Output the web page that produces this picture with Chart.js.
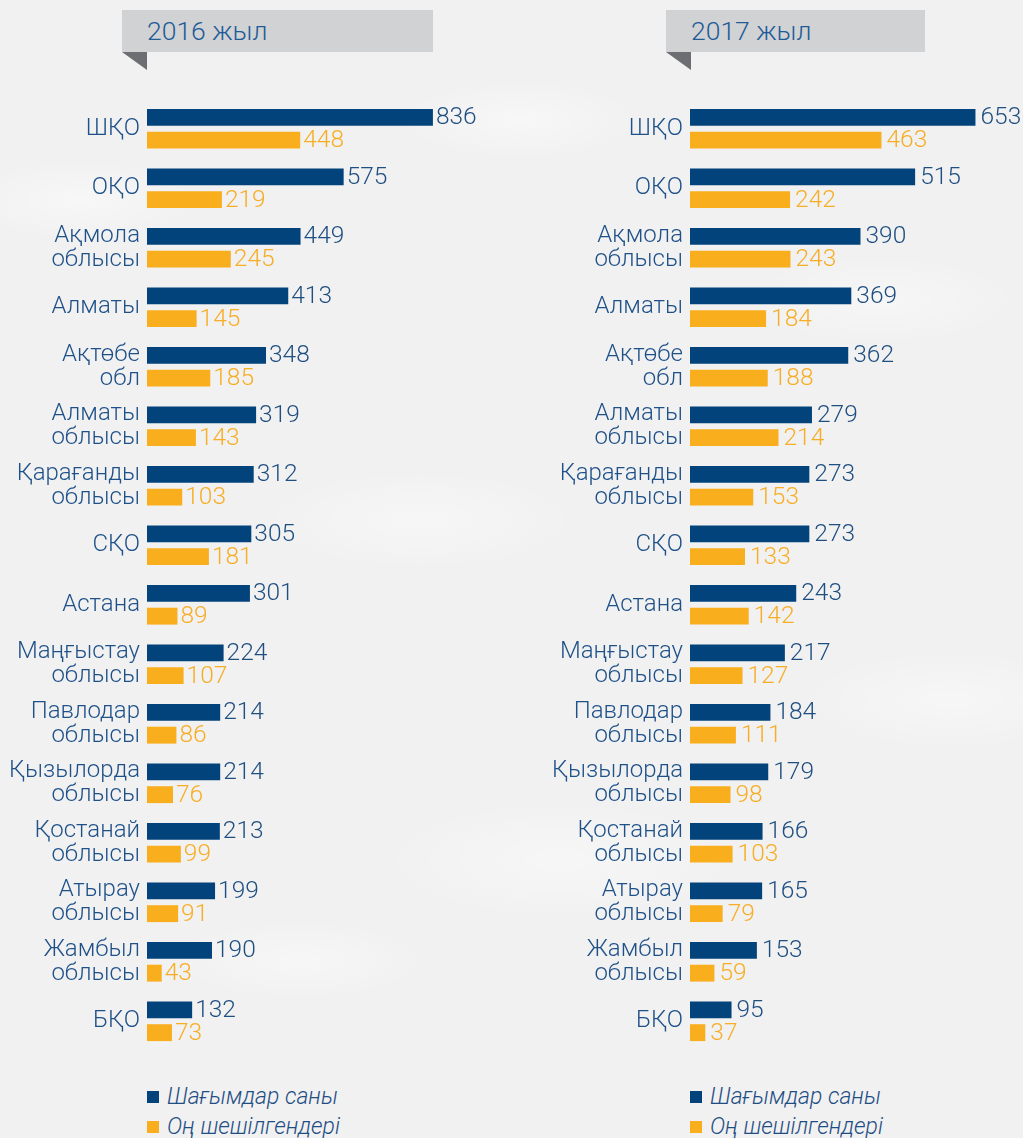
<!DOCTYPE html>
<html>
<head>
<meta charset="utf-8">
<script src="https://cdn.jsdelivr.net/npm/chart.js@4.4.0/dist/chart.umd.min.js"></script>
<style>
  body {
    margin: 0;
    width: 1023px;
    height: 1138px;
    overflow: hidden;
    position: relative;
    font-family: Roboto, "Noto Sans", sans-serif;
    background-color: #f1f1f1;
    background-image:
      radial-gradient(ellipse 120px 40px at 80px 200px, rgba(255,255,255,0.45), transparent),
      radial-gradient(ellipse 160px 50px at 420px 520px, rgba(255,255,255,0.4), transparent),
      radial-gradient(ellipse 140px 45px at 880px 300px, rgba(255,255,255,0.4), transparent),
      radial-gradient(ellipse 180px 60px at 560px 860px, rgba(255,255,255,0.4), transparent),
      radial-gradient(ellipse 130px 40px at 300px 960px, rgba(255,255,255,0.4), transparent),
      radial-gradient(ellipse 150px 50px at 950px 700px, rgba(255,255,255,0.4), transparent),
      radial-gradient(ellipse 120px 40px at 520px 120px, rgba(255,255,255,0.45), transparent);
  }
  .title {
    position: absolute;
    top: 10px;
    height: 42px;
    line-height: 42px;
    background: #d1d2d4;
    color: #1f5b98;
    font-size: 26.5px;
    font-weight: 300;
    padding-left: 25px;
    box-sizing: border-box;
  }
  .title::after {
    content: '';
    position: absolute;
    left: 0;
    top: 42px;
    width: 0;
    height: 0;
    border-top: 18px solid #6d6e71;
    border-left: 25px solid transparent;
  }
  canvas { position: absolute; top: 80px; }
  .legend {
    position: absolute;
    top: 1083px;
    font-size: 23px;
    font-style: italic;
    font-weight: 300;
    color: #1f4e85;
  }
  .legend div { height: 30px; line-height: 28px; white-space: nowrap; }
  .legend span {
    display: inline-block;
    width: 12px;
    height: 12px;
    margin-right: 8px;
    vertical-align: 1px;
  }
</style>
</head>
<body>
<div class="title" style="left:122px;width:311px;">2016 жыл</div>
<div class="title" style="left:666px;width:259px;">2017 жыл</div>

<canvas id="chart2016" width="510" height="990" style="left:0px;"></canvas>
<canvas id="chart2017" width="480" height="990" style="left:543px;"></canvas>

<div class="legend" style="left:147px;">
  <div><span style="background:#03437b"></span>Шағымдар саны</div>
  <div><span style="background:#f9ae1d"></span>Оң шешілгендері</div>
</div>
<div class="legend" style="left:690px;">
  <div><span style="background:#03437b"></span>Шағымдар саны</div>
  <div><span style="background:#f9ae1d"></span>Оң шешілгендері</div>
</div>

<script>
const regions = [
    'ШҚО', 'ОҚО', ['Ақмола', 'облысы'], 'Алматы', ['Ақтөбе', 'обл'],
    ['Алматы', 'облысы'], ['Қарағанды', 'облысы'], 'СҚО', 'Астана',
    ['Маңғыстау', 'облысы'], ['Павлодар', 'облысы'], ['Қызылорда', 'облысы'],
    ['Қостанай', 'облысы'], ['Атырау', 'облысы'], ['Жамбыл', 'облысы'], 'БҚО'
];
const seriesNames = ['Шағымдар саны', 'Оң шешілгендері'];

const complaints2016 = [836, 575, 449, 413, 348, 319, 312, 305, 301, 224, 214, 214, 213, 199, 190, 132];
const resolved2016   = [448, 219, 245, 145, 185, 143, 103, 181, 89, 107, 86, 76, 99, 91, 43, 73];
const complaints2017 = [653, 515, 390, 369, 362, 279, 273, 273, 243, 217, 184, 179, 166, 165, 153, 95];
const resolved2017   = [463, 242, 243, 184, 188, 214, 153, 133, 142, 127, 111, 98, 103, 79, 59, 37];

const BLUE = '#03437b';
const ORANGE = '#f9ae1d';

// draws the number right after the end of each bar
const valueLabels = {
    id: 'valueLabels',
    afterDatasetsDraw(chart, args, opts) {
        const ctx = chart.ctx;
        ctx.save();
        ctx.font = '300 24.5px Roboto, sans-serif';
        ctx.textBaseline = 'middle';
        ctx.textAlign = 'left';
        chart.data.datasets.forEach((ds, i) => {
            ctx.fillStyle = ds.labelColor;
            chart.getDatasetMeta(i).data.forEach((bar, j) => {
                ctx.fillText(ds.data[j], bar.x + opts.gap, bar.y + 1);
            });
        });
        ctx.restore();
    }
};

function createChart(id, blueData, orangeData, blueMax, orangeMax, padRight, gap) {
    const ctx = document.getElementById(id).getContext('2d');
    return new Chart(ctx, {
        type: 'bar',
        data: {
            labels: regions,
            datasets: [{
                label: seriesNames[0],
                data: blueData,
                backgroundColor: BLUE,
                labelColor: '#1f4e80',
                xAxisID: 'x'
            }, {
                label: seriesNames[1],
                data: orangeData,
                backgroundColor: ORANGE,
                labelColor: '#f7ad25',
                xAxisID: 'x2'
            }]
        },
        options: {
            indexAxis: 'y',
            responsive: false,
            animation: false,
            devicePixelRatio: 1,
            categoryPercentage: 0.767,
            barPercentage: 0.74,
            layout: { padding: { top: 15, bottom: 15, right: padRight, left: 0 } },
            plugins: {
                legend: { display: false },
                tooltip: { enabled: false },
                valueLabels: { gap: gap }
            },
            scales: {
                x: { display: false, min: 0, max: blueMax },
                x2: { display: false, min: 0, max: orangeMax },
                y: {
                    grid: { display: false, drawTicks: false },
                    border: { display: false },
                    afterFit: (scale) => { scale.width = 147; },
                    ticks: {
                        padding: 7,
                        color: '#1f5189',
                        font: { family: 'Roboto', size: 24, weight: '300', lineHeight: 1.0 }
                    }
                }
            }
        },
        plugins: [valueLabels]
    });
}

createChart('chart2016', complaints2016, resolved2016, 1000, 1000, 21, 3);
createChart('chart2017', complaints2017, resolved2017, 700, 740, 27, 5);
</script>
</body>
</html>
